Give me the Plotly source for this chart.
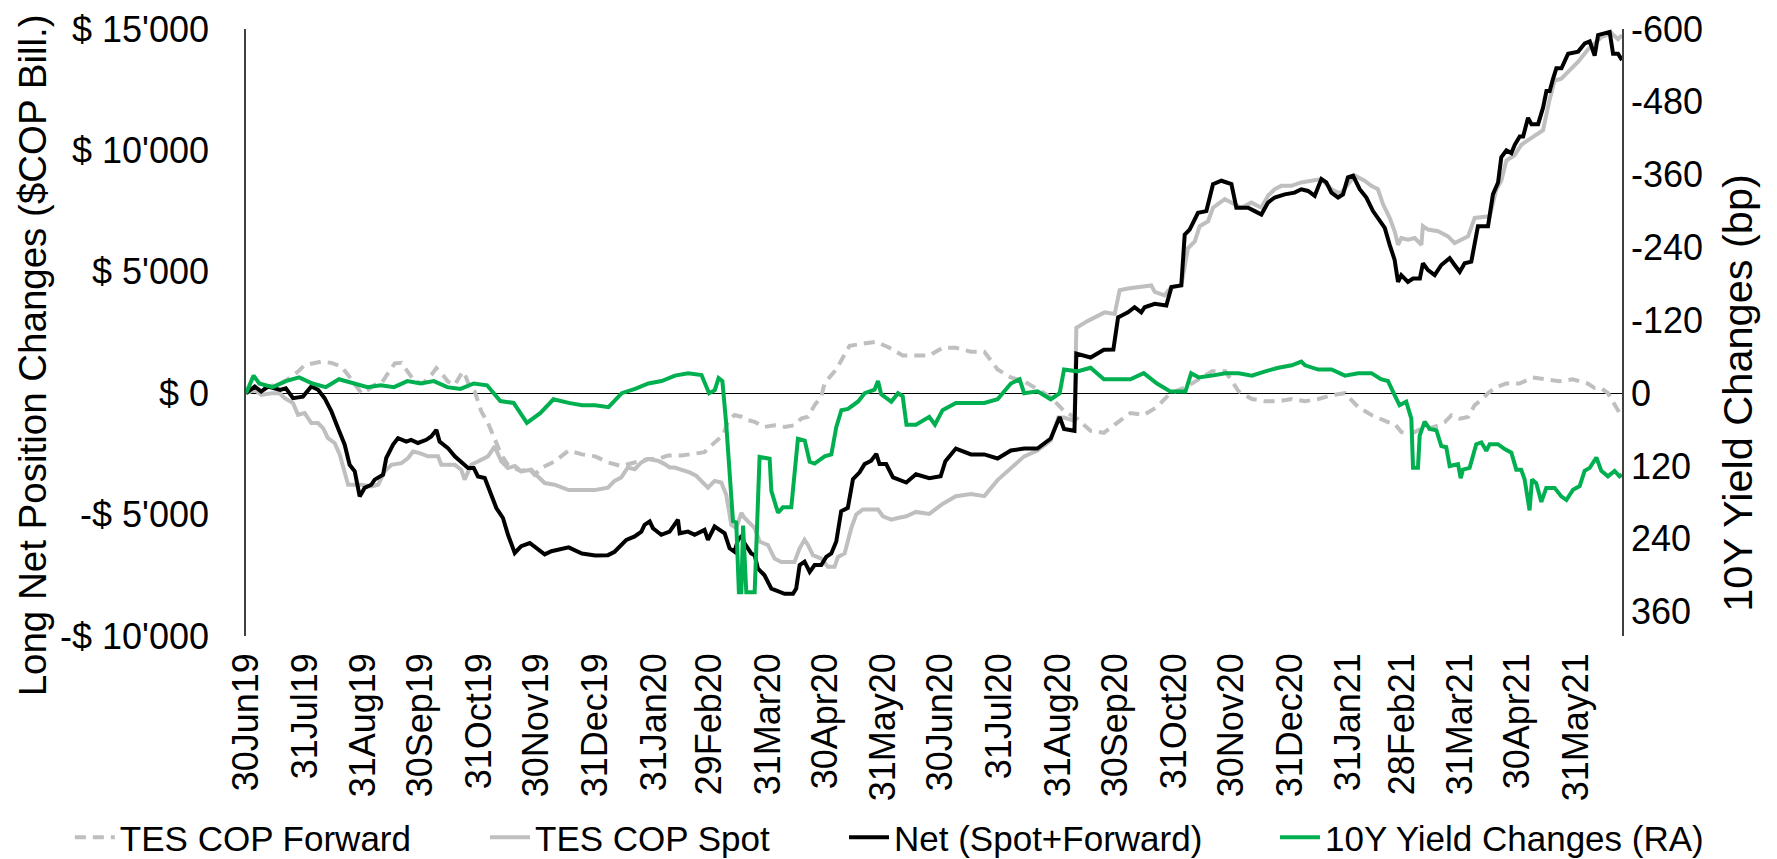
import pandas as pd
import plotly.graph_objects as go

START = "2019-06-30"

# ---- Net (Spot+Forward), $COP Bill. : days since 30Jun19 / values
net_days = [0, 4.6, 8, 11.6, 18, 21, 24.8, 30, 34.4, 38, 41.4, 45, 48.5, 52, 54.6, 57.3, 59.9, 62.5, 66, 67.8,
            72.2, 73.9, 77.5, 80.1, 84.5, 87, 90.6, 95, 97.6, 100.3, 102, 106.4, 110, 113.4, 117, 120, 122.2,
            125.8, 129.3, 131.9, 135.4, 138, 141.6, 145, 149.5, 153.8, 157.4, 160.9, 170, 177, 184,
            190.7, 194.2, 200.4, 204.8, 208.3, 210.0, 212.7, 214.4, 218.8, 223.2, 227.6, 228.5, 232.9, 236.4,
            241.6, 243.4, 246.9, 252.2, 254.8, 257.4, 259.2, 261.0, 262.7, 264.5, 266.2, 268.0, 269.7, 273.2,
            276.8, 283.8, 288.2, 289.9, 291.7, 294.3, 297.0, 299.6, 303.1, 305.7, 308.4, 311.0, 313.6, 317.1,
            319.8, 323.3, 325.9, 329.4, 332.1, 333.8, 337.3, 340.9, 345.3, 347.9,
            353, 360, 366, 368.5, 374, 382, 389, 396, 403, 410, 417, 424, 428.7, 431, 436.5, 437.5, 445, 452,
            457, 459.5,
            461.2, 464.7, 468.2, 471.7, 473.5, 478.8, 484.9, 487.6, 492.8, 494.6, 497.2, 501.6, 506.0, 509.5,
            513.9, 517.4, 519.2, 521.8, 528.0, 531.5, 535.0, 538.5, 542.0, 547.3, 552.5, 556.0, 559.6, 563.1,
            566.6, 569.2, 571.9, 575.4, 578.0, 580.6, 583.3, 586.8, 590.3, 593.8, 596.4, 600.0, 602.6, 605.2,
            607.0, 608.7, 612.2, 614.9, 618.5, 620.1, 622.8, 626.3, 629.8, 634.2, 636.8, 639.5, 642.1, 645.6,
            649.1, 654.4, 657.0, 659.7, 661.4, 664.1,
            666.7, 668.5, 671.1, 672.9, 675.5, 677.3, 680.8, 683.4, 685.2, 686.9, 688.7, 690.4, 693.1, 696.6,
            701.9, 705.4, 708.0, 710.6, 712.4, 716.8, 718.5, 720.3, 722.9, 725]
net_vals = [0, 274, 70, 274, 137, 205, -205, -140, 274, 140, -205, -750, -1440, -2120, -2950, -3220, -4250, -3900,
            -3770, -3560, -3360, -2670, -2120, -1850, -1990, -1920, -2050, -1920, -1780, -1510, -1990, -2260,
            -2600, -2810, -3080, -3080, -3430, -3490, -4180, -4730, -5140, -5820, -6580, -6300, -6170, -6440,
            -6640, -6510, -6350, -6600, -6680,
            -6670, -6530, -6040, -5900, -5700, -5420, -5280, -5560, -5830, -5700, -5210, -5770, -5700, -5830,
            -5630, -6040, -5490, -5770, -6390, -6530, -6040, -5900, -6180, -6390, -6600, -6670, -7220, -7500,
            -8050, -8260, -8260, -8050, -7080, -6940, -7360, -7080, -7080, -6740, -6600, -6110, -4860, -4720,
            -3540, -3260, -2920, -2780, -2500, -2920, -2920, -3470, -3610, -3680,
            -3340, -3500, -3420, -2800, -2280, -2520, -2520, -2690, -2360, -2280, -2280, -1870, -980, -1470,
            -1550, 1630, 1470, 1790, 1800, 3125,
            3190, 3330, 3540, 3330, 3540, 3680, 3610, 4370, 4440, 6530, 6740, 7430, 7500, 8610,
            8750, 8680, 8610, 7640, 7640, 7500, 7360, 7850, 8060, 8190, 8260, 8400, 8330, 8130,
            8820, 8680, 8260, 8060, 8190, 8890, 8960, 8400, 8060, 7500, 7220, 6810, 6110, 5490,
            4580, 4860, 4580, 4720, 4720, 5350, 5070, 4860, 5280, 5560, 5280, 5000, 5350, 5420,
            6880, 6880, 8190, 8680, 9720, 10000,
            9890, 10230, 10570, 10570, 11340, 11080, 11080, 11760, 12450, 12450, 12960, 13380, 13380, 13980,
            14070, 14410, 14490, 13900, 14750, 14830, 14880, 13980, 13980, 13720]

# ---- TES COP Spot
spot_days = [0, 4.6, 8.1, 13.4, 17.7, 20.4, 24.8, 27.4, 30.9, 32.7, 34.4, 37.9, 40.6, 43.2, 46.7, 49.4, 52.0,
             53.8, 60.8, 66.0, 69.6, 73.1, 76.6, 81.9, 85.4, 88.0, 91.5, 95.9, 101.2, 102.9, 110.0, 113.4,
             115.2, 118.7, 122.2, 127.5, 131.0, 134.5, 138.0, 141.6, 145.0, 150.3, 153.8, 157.4, 162.6, 170,
             177, 184,
             190.7, 194.2, 197.7, 201.2, 204.8, 208.3, 211.8, 217.0, 220.6, 223.2, 225.8, 229.3, 233.7, 237.2,
             240.8, 243.4, 246.9, 250.4, 253.0, 255.7, 258.3, 261.0, 262.7, 264.5, 268.0, 270.6, 275.0, 278.5,
             282.0, 289.0, 291.7, 294.3, 296.1, 298.7, 303.1, 306.6, 310.1, 311.9, 315.4, 318.9, 321.5, 325.0,
             329.4, 333.0, 335.6, 340.0, 343.5, 347.9,
             353, 360, 367, 374, 382, 389, 396, 403, 410, 417, 424, 428, 431, 436.5, 437.5, 443.6, 447.2, 452.4,
             457.7, 460.3, 464.7, 471.7, 477.0, 478.8, 484.0, 487.6, 492.8, 496.3, 499.9, 502.5, 506.9, 509.5,
             515.7, 520.9, 524.4, 529.7, 535.0, 538.5, 542.0, 545.5, 550.8, 556.0, 561.3, 566.6, 571.9, 575.4,
             577.1, 584.2, 589.4, 592.9, 596.4, 599.1, 602.6, 605.2, 607.0, 608.7, 612.2, 615.8, 619.3, 620.1,
             622.8, 628.1, 633.3, 636.8, 640.3, 643.9, 647.4, 652.6, 655.3, 658.8, 661.4, 664.1, 668.4, 671.9,
             675.4, 679.8, 683.4, 686.9, 689.5, 693.0, 696.5, 701.8, 707.0, 714.1, 719.4, 722.9, 725]
spot_vals = [0, 137, -70, 0, 0, -205, -410, -890, -820, -1030, -1230, -1230, -1440, -1850, -2050, -2530, -3360,
             -3770, -3770, -3840, -3770, -3220, -2950, -2880, -2670, -2400, -2470, -2600, -2600, -2950, -2950,
             -3150, -3560, -2950, -2810, -2600, -2190, -2810, -3080, -3000, -3220, -3150, -3430, -3700, -3770,
             -3990, -3990, -3990,
             -3890, -3610, -3470, -3060, -3130, -2850, -2710, -2780, -2920, -3060, -3060, -3130, -3260, -3400,
             -3680, -3890, -3610, -3680, -4170, -5420, -5560, -4930, -5140, -5280, -5560, -6110, -6250, -6810,
             -6950, -6950, -6390, -6040, -6250, -6670, -6810, -7150, -7150, -6740, -6600, -5560, -5000, -4790,
             -4790, -4790, -5070, -5210, -5140, -5070,
             -4890, -4970, -4560, -4240, -4150, -4240, -3580, -3100, -2600, -2360, -1950, -1000, -1000, -1140,
             2690, 2980, 3130, 3330, 3260, 4240, 4310, 4370, 4440, 4170, 4030, 4370, 4440, 5970, 6250, 6880,
             7080, 7640, 7990, 7780, 7640, 7850, 7640, 8130, 8400, 8540, 8540, 8680, 8750, 8820, 8400, 8260,
             8260, 8960, 8750, 8540, 8400, 7780, 7220, 6670, 6110, 6390, 6320, 6390, 6110, 6880, 6740, 6670,
             6460, 6180, 6320, 6460, 7220, 7290, 7290, 8400, 8750, 9580, 9800, 10230, 10400, 10660, 10830,
             12110, 12870, 12950, 13210, 13640, 14150, 14660, 14830, 14580, 14750]

# ---- TES COP Forward
fwd_days = [0, 6.3, 11.6, 18.6, 23.0, 27.4, 30.9, 34.4, 39.7, 45, 50.2, 53.8, 58.1, 60.8, 64.3, 67.8, 71.3,
            75.7, 78.4, 81.9, 85.4, 88.9, 93.3, 97.7, 100.3, 103.0, 106.4, 110.0, 112.6, 114.3, 116.1, 117.8,
            120.5, 124.0, 127.5, 131.0, 134.5, 138.0, 141.6, 145.0, 148.6, 152.1, 155.6, 159.1, 162.6, 170,
            177, 184, 190.7, 197.7, 204.8, 211.8, 217.0, 222.3, 229.3, 236.4, 241.6, 245.1, 248.7, 251.3,
            253.9, 257.4, 261.0, 264.5, 268.0, 273.2, 278.5, 283.8, 289.0, 292.6, 296.1, 299.6, 303.1, 304.9,
            311, 318, 325, 332, 339, 346, 353, 360, 367, 374, 382, 389, 396, 403, 410, 417, 424, 431, 438,
            445, 452, 459, 466, 473, 480, 487, 495, 502, 509, 516, 523, 530, 537, 544, 551, 558, 565, 572,
            579, 586, 593, 601.7, 605.2, 608.7, 612.2, 615.8, 619.3, 622.8, 628.1, 631.6, 635.1, 639.5,
            643.9, 647.4, 650.9, 654.4, 657.9, 664, 671, 678, 685, 692, 699, 707, 710.6, 714.1, 717.6, 720.3,
            722.9, 725]
fwd_vals = [0, 200, 274, 410, 620, 890, 1160, 1230, 1300, 1250, 1100, 750, 274, 0, 137, 340, 410, 890, 1230,
            1250, 890, 480, 410, 750, 1030, 820, 480, 340, 690, 890, 620, 274, 70, -750, -1230, -1850, -2530,
            -2950, -3080, -3220, -3080, -3360, -3080, -2950, -2810, -2360, -2520, -2600, -2850, -3000, -2850,
            -2710, -2710, -2570, -2570, -2500, -2430, -2150, -1880, -1740, -1180, -900, -970, -1110, -1180,
            -1390, -1320, -1390, -1320, -1040, -970, -490, -140, 420,
            980, 1950, 2040, 2120, 1870, 1550, 1550, 1550, 1870, 1870, 1710, 1710, 980, 650, 490, 160, -160,
            -730, -1060, -1550, -1630, -1220, -815, -900, -570, 0, 240, 570, 900, 900, 80, -240, -330, -330,
            -240, -330, -240, -80, 0, -570, -900, -1190, -1260, -1600, -1670, -1600, -1460, -1460, -1330,
            -1190, -910, -1050, -980, -490, -280, 0, 210, 400, 400, 650, 570, 490, 570, 400, 210, 210, 0,
            -350, -630, -980]

# ---- 10Y Yield Changes (bp), right axis
yld_days = [0, 4, 7, 14, 21, 28, 35, 42, 49, 57, 64, 71, 78, 85, 92, 99, 106, 113, 120, 127, 134, 141, 148,
            155, 162, 170, 177, 184, 191, 198, 205, 212, 219, 226, 233, 240, 244, 247, 249, 251, 253, 256.6,
            258.3, 259.7, 261.0, 261.9, 263.6, 268.0, 270.6, 275.9, 276.8, 280.3, 282.9, 287.3, 290.8, 294.4,
            297.0, 299.6, 304.9, 308.4, 311.0, 313.7, 317.2, 322.4, 326.0, 331.2, 333.0, 334.7, 340.0, 343.5,
            346, 348, 353, 360, 363, 367, 374, 382, 389, 396, 403, 407.6, 410, 417, 424, 428.7, 431, 438, 445,
            452, 459, 466, 473, 480, 487, 495, 498, 502, 509, 516, 523, 530, 537, 544, 551, 556, 558, 565, 572,
            579, 586, 593, 598, 601.7, 605.2, 607.8, 611.3, 614.0, 614.9, 617.5, 618.4, 621.0, 623.7, 627.2,
            629.8, 632.4, 634.2, 638.6, 640.0, 641.2, 644.7, 648.2, 650.9, 653.5, 655.3, 659.6, 663.2, 666.7,
            669.3, 671.9, 673.7, 676.3, 677.6, 679.8, 682.5, 685.1, 689.5, 693.0, 695.7, 699.2, 702.7, 705.3,
            708.0, 711.5, 714.1, 717.6, 721.1, 723.7, 725]
yld_vals = [0, -29, -16, -10, -20, -26, -16, -10, -23, -16, -10, -13, -10, -20, -16, -20, -10, -7, -16, -13, 13,
            16, 49, 33, 10, 16, 20, 20, 23, 0, -7, -16, -20, -29, -33, -30, 0, -5, -25, -20, 50, 211,
            213, 328, 328, 218, 328, 328, 105, 108, 161, 197, 188, 188, 75, 78,
            113, 116, 104, 101, 56, 28, 26, 14, 0, -6, -20, 2, 14, 0,
            5, 52, 52, 39, 52, 28, 16, 16, 16, 10, -16, -23, 0, -3, 10, 0, -39, -36, -42,
            -23, -23, -23, -33, -16, -3, -3, -33, -26, -29, -33, -33, -29, -36, -42, -46, -52, -46, -39, -39,
            -29, -33, -33, -23, -20, 3, 20, 14, 42, 123, 123, 70, 47, 59, 61,
            87, 89, 120, 117, 140, 126, 123, 84, 81, 95, 84, 84, 92, 98,
            126, 126, 142, 193, 142, 148, 179, 156, 156, 170, 176, 159, 153, 128,
            123, 106, 128, 137, 128, 137, 134]

# ---- axes
tick_dates = ["2019-06-30", "2019-07-31", "2019-08-31", "2019-09-30", "2019-10-31", "2019-11-30",
              "2019-12-31", "2020-01-31", "2020-02-29", "2020-03-31", "2020-04-30", "2020-05-31",
              "2020-06-30", "2020-07-31", "2020-08-31", "2020-09-30", "2020-10-31", "2020-11-30",
              "2020-12-31", "2021-01-31", "2021-02-28", "2021-03-31", "2021-04-30", "2021-05-31"]
tick_labels = ["30Jun19", "31Jul19", "31Aug19", "30Sep19", "31Oct19", "30Nov19", "31Dec19", "31Jan20",
               "29Feb20", "31Mar20", "30Apr20", "31May20", "30Jun20", "31Jul20", "31Aug20", "30Sep20",
               "31Oct20", "30Nov20", "31Dec20", "31Jan21", "28Feb21", "31Mar21", "30Apr21", "31May21"]
x_end = "2021-06-24"

left_ticks = [-10000, -5000, 0, 5000, 10000, 15000]
left_labels = ["-$ 10'000", "-$ 5'000", "$ 0", "$ 5'000", "$ 10'000", "$ 15'000"]
right_ticks = [-600, -480, -360, -240, -120, 0, 120, 240, 360]
right_labels = ["-600", "-480", "-360", "-240", "-120", "0", "120", "240", "360"]
left_title = "Long Net Position Changes ($COP Bill.)"
right_title = "10Y Yield Changes (bp)"


def to_dates(days):
    return pd.Timestamp(START) + pd.to_timedelta(days, unit="D")


FONT = "Liberation Sans, Arial, sans-serif"
FS = 36    # tick labels
FT = 38.5  # axis titles
FL = 35    # legend

fig = go.Figure()
fig.add_trace(go.Scatter(x=to_dates(fwd_days), y=fwd_vals, name="TES COP Forward", mode="lines",
                         line=dict(color="#BFBFBF", width=4, dash="11px,7px"), legend="legend"))
fig.add_trace(go.Scatter(x=to_dates(spot_days), y=spot_vals, name="TES COP Spot", mode="lines",
                         line=dict(color="#BFBFBF", width=4), legend="legend2"))
fig.add_trace(go.Scatter(x=to_dates(net_days), y=net_vals, name="Net (Spot+Forward)", mode="lines",
                         line=dict(color="#000000", width=4), legend="legend3"))
fig.add_trace(go.Scatter(x=to_dates(yld_days), y=yld_vals, name="10Y Yield Changes (RA)", mode="lines",
                         line=dict(color="#00B050", width=4), yaxis="y2", legend="legend4"))


def leg(x):
    return dict(orientation="h", xref="paper", yref="paper", x=x, y=-0.332, xanchor="left",
                yanchor="middle", font=dict(size=FL), itemwidth=40, bgcolor="rgba(0,0,0,0)")


fig.update_layout(
    width=1777, height=859,
    margin=dict(l=238, r=163, t=21, b=231, autoexpand=False),
    paper_bgcolor="white", plot_bgcolor="white",
    font=dict(family=FONT, size=FS, color="black"),
    showlegend=True,
    legend=leg(-0.128), legend2=leg(0.1737), legend3=leg(0.4346), legend4=leg(0.7478),
    xaxis=dict(type="date", range=[START, x_end], tickvals=tick_dates, ticktext=tick_labels,
               tickangle=-90, showgrid=False, zeroline=False, showline=False, ticks="",
               ticklabelstandoff=9, tickfont=dict(size=FS)),
    yaxis=dict(range=[-10000, 15000], tickvals=left_ticks, ticktext=left_labels, showgrid=False,
               zeroline=True, zerolinecolor="black", zerolinewidth=1.3,
               showline=True, linecolor="#404040", linewidth=1.5, ticks="",
               ticklabelstandoff=28, tickfont=dict(size=FS)),
    yaxis2=dict(range=[400, -600], overlaying="y", side="right", tickvals=right_ticks,
                ticktext=right_labels, showgrid=False, zeroline=False, showline=True,
                linecolor="#404040", linewidth=1.5, ticks="", ticklabelstandoff=0,
                tickfont=dict(size=FS)),
    annotations=[
        dict(text=left_title, xref="paper", yref="paper", x=-0.1545, y=0.463, textangle=-90,
             showarrow=False, xanchor="center", yanchor="middle", font=dict(size=FT)),
        dict(text=right_title, xref="paper", yref="paper", x=1.084, y=0.40, textangle=-90,
             showarrow=False, xanchor="center", yanchor="middle", font=dict(size=41.5)),
    ],
)

fig.write_html("out.html")
